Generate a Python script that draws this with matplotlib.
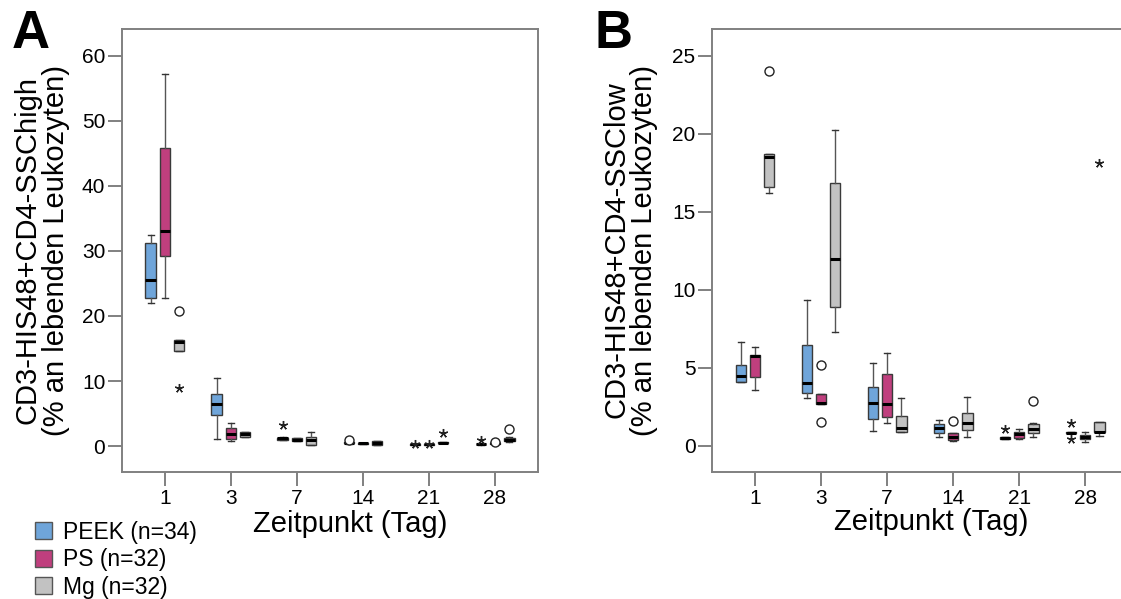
import matplotlib.pyplot as plt
from matplotlib.patches import Patch

plt.rcParams['font.family'] = ['Liberation Sans', 'DejaVu Sans']

days = ['1', '3', '7', '14', '21', '28']
groups = ['PEEK (n=34)', 'PS (n=32)', 'Mg (n=32)']
colors = ['#6fa5da', '#c03f7e', '#c2c2c2']

# per day: (whisker low, Q1, median, Q3, whisker high)
a_peek = [(22.0, 22.7, 25.6, 31.2, 32.4), (1.1, 4.8, 6.4, 8.0, 10.5), (0.9, 1.0, 1.2, 1.3, 1.4),
          (0.35, 0.4, 0.5, 0.6, 0.6), (0.2, 0.2, 0.3, 0.35, 0.35), (0.2, 0.25, 0.3, 0.35, 0.4)]
a_ps = [(22.7, 29.2, 33.0, 45.9, 57.2), (0.8, 1.1, 1.9, 2.8, 3.6), (0.7, 0.75, 1.0, 1.25, 1.3),
        (0.3, 0.3, 0.4, 0.5, 0.5), (0.2, 0.2, 0.25, 0.3, 0.3), (0.3, 0.3, 0.4, 0.45, 0.5)]
a_mg = [(14.6, 14.6, 16.0, 16.3, 16.3), (1.4, 1.4, 1.9, 2.2, 2.2), (0.15, 0.15, 0.9, 1.45, 2.1),
        (0.2, 0.2, 0.5, 0.75, 0.8), (0.4, 0.4, 0.5, 0.6, 0.65), (0.65, 0.7, 1.0, 1.3, 1.35)]

b_peek = [(4.1, 4.1, 4.49, 5.17, 6.63), (3.08, 3.36, 4.0, 6.43, 9.36), (0.96, 1.71, 2.76, 3.76, 5.3),
          (0.54, 0.79, 1.15, 1.37, 1.65), (0.41, 0.41, 0.5, 0.58, 0.58), (0.8, 0.8, 0.83, 0.86, 0.86)]
b_ps = [(3.55, 4.4, 5.75, 5.8, 6.3), (2.65, 2.65, 2.76, 3.3, 3.3), (1.43, 1.82, 2.67, 4.6, 5.95),
        (0.28, 0.37, 0.54, 0.83, 0.83), (0.43, 0.51, 0.73, 0.9, 1.07), (0.26, 0.41, 0.58, 0.69, 0.86)]
b_mg = [(16.2, 16.6, 18.5, 18.7, 18.7), (7.27, 8.9, 11.95, 16.8, 20.2), (0.9, 0.9, 1.1, 1.9, 3.04),
        (0.54, 1.0, 1.43, 2.07, 3.1), (0.54, 0.83, 1.07, 1.39, 1.43), (0.62, 0.86, 0.9, 1.5, 1.5)]

# outliers: (group index, day index, value)
a_circles = [(2, 0, 20.7), (0, 3, 0.9), (1, 5, 0.57), (2, 5, 2.55)]
a_stars = [(2, 0, 8.9), (0, 2, 3.2), (0, 4, 0.35), (1, 4, 0.35), (2, 4, 1.95), (0, 5, 0.9)]
b_circles = [(2, 0, 24.0), (1, 1, 5.17), (1, 1, 1.5), (1, 3, 1.6), (2, 4, 2.87)]
b_stars = [(0, 4, 1.05), (0, 5, 1.43), (0, 5, 0.43), (2, 5, 18.1)]

OFFSET = 0.215
WIDTH = 0.16
EDGE = '#3a3a3a'
SPINE = '#808080'


def draw_panel(ax, series, circles, stars, yticks, ylim):
    for g, stats_list in enumerate(series):
        stats = [dict(whislo=s[0], q1=s[1], med=s[2], q3=s[3], whishi=s[4], fliers=[])
                 for s in stats_list]
        pos = [i + 1 + (g - 1) * OFFSET for i in range(len(days))]
        ax.bxp(stats, positions=pos, widths=WIDTH, patch_artist=True, showfliers=False,
               boxprops=dict(facecolor=colors[g], edgecolor=EDGE, linewidth=1.0),
               medianprops=dict(color='black', linewidth=2.2, solid_capstyle='butt'),
               whiskerprops=dict(color='#555555', linewidth=1.0),
               capprops=dict(color='#333333', linewidth=1.0),
               capwidths=WIDTH * 0.6, manage_ticks=False)
    for g, d, v in circles:
        ax.plot(d + 1 + (g - 1) * OFFSET, v, 'o', mfc='white', mec='#222222', ms=6.5, mew=1.0,
                zorder=5)
    for g, d, v in stars:
        ax.plot(d + 1 + (g - 1) * OFFSET, v, marker=(5, 2, 0), color='#222222', ms=6.5, mew=1.0,
                zorder=5)
    ax.set_xlim(0.35, 6.65)
    ax.set_ylim(*ylim)
    ax.set_xticks(range(1, len(days) + 1))
    ax.set_xticklabels(days)
    ax.set_yticks(yticks)
    for sp in ax.spines.values():
        sp.set_color(SPINE)
        sp.set_linewidth(1.4)
    ax.tick_params(axis='both', colors=SPINE, labelcolor='black', labelsize=15, length=10,
                   width=1.4, pad=2)


fig = plt.figure(figsize=(11.21, 5.99), dpi=100)
ax_a = fig.add_axes([0.1088, 0.2120, 0.3711, 0.7396])
ax_b = fig.add_axes([0.6352, 0.2120, 0.3711, 0.7396])

draw_panel(ax_a, [a_peek, a_ps, a_mg], a_circles, a_stars, [0, 10, 20, 30, 40, 50, 60], (-4.0, 64.15))
draw_panel(ax_b, [b_peek, b_ps, b_mg], b_circles, b_stars, [0, 5, 10, 15, 20, 25], (-1.69, 26.7))

fig.text(42 / 1121, 1 - 250 / 599, 'CD3-HIS48+CD4-SSChigh\n(% an lebenden Leukozyten)',
         rotation=90, ha='center', va='center', fontsize=21, linespacing=1.0)
fig.text(630 / 1121, 1 - 250 / 599, 'CD3-HIS48+CD4-SSClow\n(% an lebenden Leukozyten)',
         rotation=90, ha='center', va='center', fontsize=21, linespacing=1.0)
fig.text(350 / 1121, 1 - 524 / 599, 'Zeitpunkt (Tag)', ha='center', va='center', fontsize=21)
fig.text(931 / 1121, 1 - 522 / 599, 'Zeitpunkt (Tag)', ha='center', va='center', fontsize=21)

fig.text(12 / 1121, 1 - 48 / 599, 'A', fontsize=38, fontweight='bold', va='baseline')
fig.text(594 / 1121, 1 - 48 / 599, 'B', fontsize=38, fontweight='bold', va='baseline')

handles = [Patch(facecolor=c, edgecolor='#555555', linewidth=1.0) for c in colors]
fig.legend(handles, groups, loc='upper left', bbox_to_anchor=(30 / 1121, 1 - 516 / 599),
           frameon=False, fontsize=16.5, handlelength=0.75, handleheight=0.75, handletextpad=0.5,
           labelspacing=0.2, borderpad=0.2, borderaxespad=0)

fig.savefig('out.png', dpi=100)
